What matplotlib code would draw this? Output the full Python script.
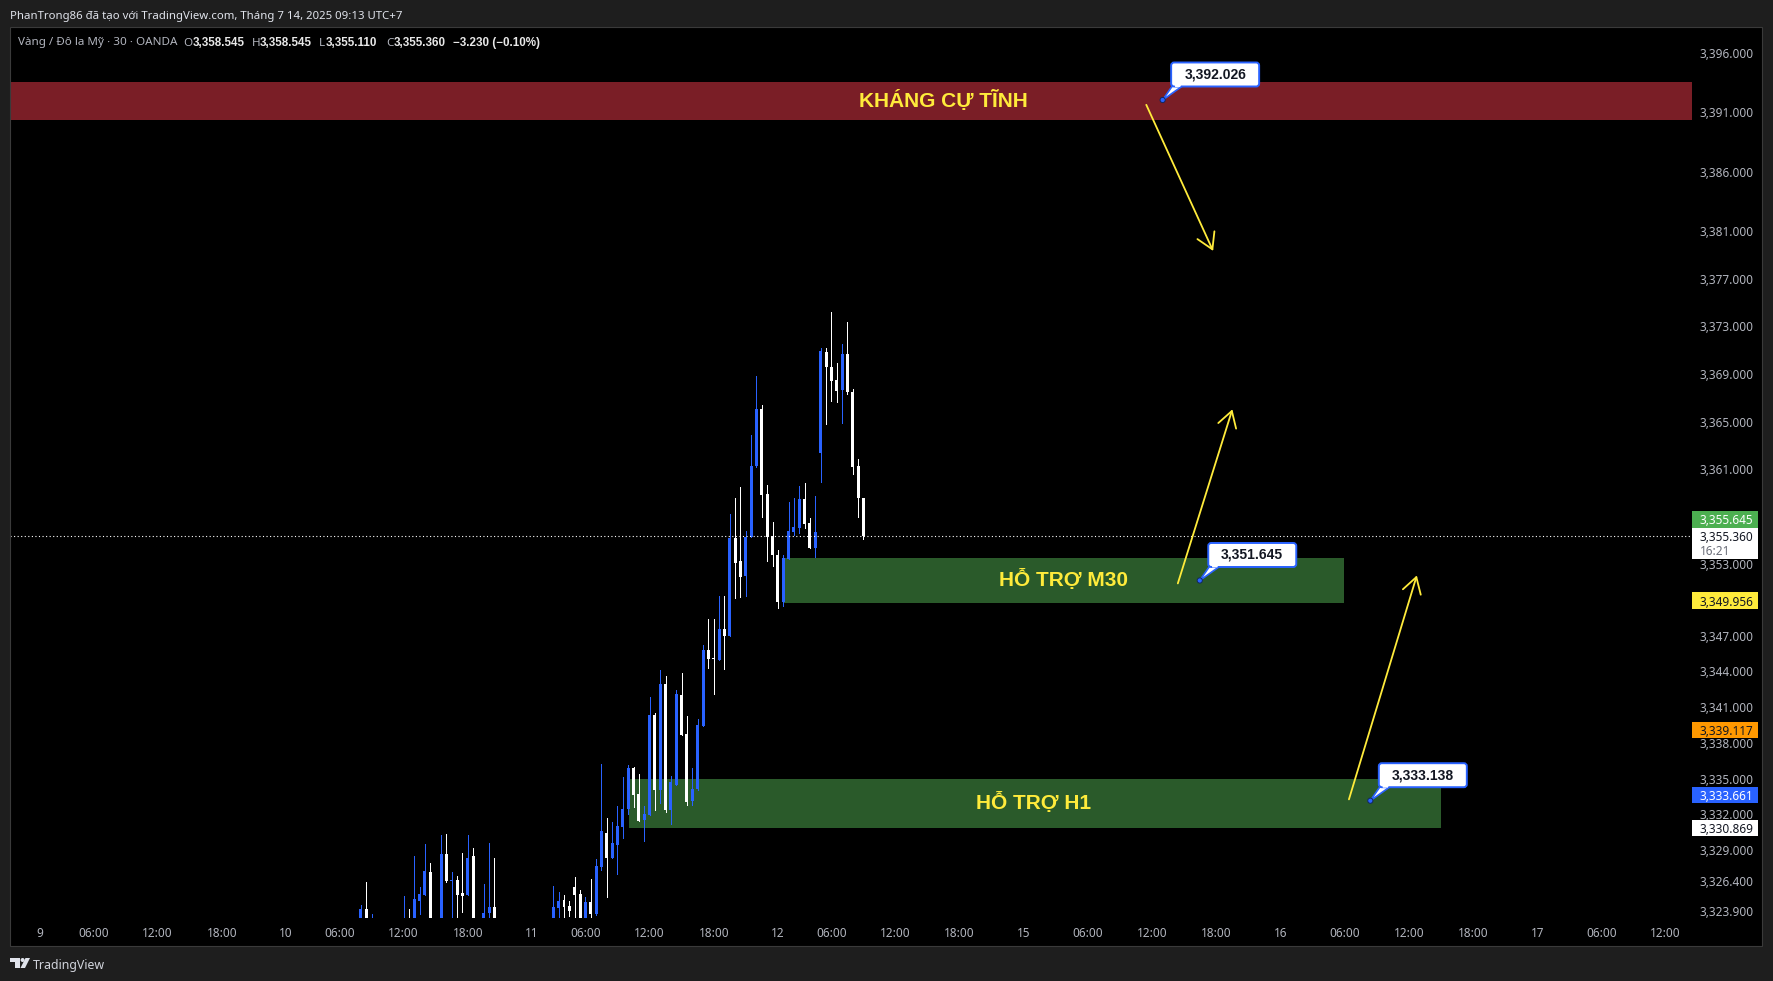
import matplotlib
matplotlib.use("Agg")
import matplotlib.pyplot as plt
from matplotlib.patches import Rectangle, FancyBboxPatch, Polygon, Circle, FancyArrowPatch
from matplotlib.transforms import IdentityTransform

plt.rcParams['font.family'] = ['Noto Sans', 'DejaVu Sans']
BOLD = ['Liberation Sans', 'DejaVu Sans']

bar_index = [60,61,62,68,69,70,71,72,73,75,76,77,78,79,80,81,83,84,85,
             96,97,98,99,100,101,102,103,104,105,106,107,108,109,110,111,112,113,114,115,116,117,118,119,120,
             121,122,123,124,125,126,127,128,129,130,131,132,133,134,135,136,137,138,139,140,141,142,143,144,145,
             146,147,148,149,150,151,152,153,154]
opens = [3322.6,3324.04,3322.5,3322.4,3323.0,3322.6,3324.71,3325.22,3327.15,3322.8,3328.66,3326.39,3326.48,3325.39,3325.22,3328.49,3322.8,3323.70,3324.21,
         3322.7,3324.13,3324.80,3324.29,3325.89,3325.30,3322.9,3324.63,3323.62,3327.57,3330.43,3328.33,3329.42,3330.93,3332.45,3335.89,3333.71,3331.52,3331.94,3340.35,3334.04,3342.95,3332.36,3334.46,3342.03,
         3338.75,3333.12,3334.13,3339.42,3345.81,3345.13,3344.97,3347.57,3346.99,3355.21,3353.28,3352.02,3355.30,3361.26,3366.05,3358.91,3355.38,3353.78,3349.83,3353.45,3355.72,3356.05,3358.49,3356.47,3354.37,
         3362.36,3370.88,3369.58,3368.49,3367.65,3370.69,3367.48,3361.26,3358.545]
highs = [3324.38,3326.31,3323.62,3325.13,3324.04,3328.49,3325.89,3329.50,3327.91,3330.26,3330.34,3327.15,3326.81,3328.75,3330.26,3329.17,3326.14,3329.59,3328.33,
         3325.97,3325.47,3325.22,3324.71,3326.73,3325.64,3325.05,3326.56,3328.24,3336.23,3331.69,3331.36,3332.70,3335.14,3336.15,3335.98,3335.39,3332.70,3341.86,3340.51,3344.13,3343.62,3335.22,3342.45,3343.88,
         3340.26,3335.89,3340.01,3346.23,3348.41,3348.41,3350.34,3350.34,3357.23,3358.57,3359.50,3355.80,3363.87,3368.83,3366.39,3359.67,3356.56,3354.20,3353.78,3358.24,3358.57,3359.58,3359.83,3356.89,3358.74,
         3371.16,3371.20,3374.20,3369.92,3371.50,3373.34,3367.70,3361.85,3358.545]
lows = [3322.2,3322.4,3322.1,3322.0,3322.2,3322.2,3323.62,3325.22,3322.5,3322.4,3326.31,3323.0,3323.0,3323.79,3325.22,3322.6,3322.4,3323.0,3322.6,
        3322.4,3323.0,3323.0,3323.45,3323.0,3322.6,3322.5,3323.2,3323.54,3327.32,3325.05,3328.33,3326.98,3330.01,3332.03,3332.62,3331.44,3329.76,3331.94,3332.36,3332.95,3332.20,3331.19,3334.46,3338.67,
        3332.78,3332.78,3334.04,3339.42,3344.30,3342.11,3344.97,3344.21,3346.99,3350.17,3350.25,3350.34,3355.30,3361.18,3356.98,3353.28,3352.86,3349.33,3349.50,3353.45,3355.46,3355.63,3356.05,3354.37,3353.62,
        3359.92,3364.79,3366.72,3366.64,3364.88,3367.31,3360.59,3356.98,3355.110]
closes = [3324.04,3322.8,3322.9,3322.9,3322.5,3324.88,3325.30,3327.23,3322.9,3328.66,3326.39,3326.48,3325.22,3325.13,3328.33,3323.0,3323.70,3324.21,3323.0,
          3324.21,3324.71,3324.21,3323.87,3325.22,3322.9,3324.63,3323.62,3327.65,3330.60,3328.33,3329.59,3331.02,3332.45,3335.89,3333.62,3331.44,3332.03,3340.35,3334.04,3342.95,3332.36,3334.72,3342.11,3338.67,
          3333.04,3334.13,3339.51,3345.81,3345.05,3345.05,3347.57,3346.99,3355.21,3353.11,3351.93,3355.30,3361.26,3366.05,3358.83,3355.30,3353.78,3349.83,3353.53,3355.80,3356.14,3358.49,3356.39,3354.37,3355.72,
          3370.97,3369.58,3368.41,3367.56,3370.69,3367.48,3361.18,3358.57,3355.360]

tick_pos = [0,10,22,34,46,56,68,80,92,102,114,126,138,148,160,172,184,196,208,220,232,244,256,268,280,292,304]
tick_txt = ['9','06:00','12:00','18:00','10','06:00','12:00','18:00','11','06:00','12:00','18:00','12','06:00','12:00','18:00',
            '15','06:00','12:00','18:00','16','06:00','12:00','18:00','17','06:00','12:00']
price_ticks = [3396,3391,3386,3381,3377,3373,3369,3365,3361,3353,3347,3344,3341,3338,3335,3332,3329,3326.4,3323.9]

last_close = 3355.36
red_zone = (3390.34, 3393.51)
m30_zone = (139.1, 243.8, 3349.78, 3353.53)
h1_zone = (110.15, 262.1, 3330.85, 3334.97)
zone_labels = [('KHÁNG CỰ TĨNH', 168.9, 3392.0), ('HỖ TRỢ M30', 191.5, 3351.75), ('HỖ TRỢ H1', 185.8, 3333.0)]
arrows = [((206.9, 3391.62), (219.4, 3379.34)), ((212.8, 3351.40), (223.0, 3366.03)), ((244.8, 3333.25), (257.5, 3352.07))]
callouts = [(209.96, 3392.026, '3,392.026'), (216.9, 3351.645, '3,351.645'), (248.8, 3333.138, '3,333.138')]
tags = [('3,355.645', 519.3, '#4caf50', '#ffffff'), ('3,349.956', 600.5, '#ffeb3b', '#131722'),
        ('3,339.117', 730, '#ff9800', '#131722'), ('3,333.661', 795, '#2962ff', '#ffffff'),
        ('3,330.869', 828, '#ffffff', '#131722')]

W, H = 1773, 981
BG, BLUE, YEL = '#1e1e1e', '#2962ff', '#ffeb3b'
GREY = '#b2b5be'
fig = plt.figure(figsize=(W/100, H/100), dpi=100, facecolor=BG)

def fx(x): return x / W
def fy(y): return 1 - y / H

fig.add_artist(Rectangle((fx(10), fy(945.5)), (1762-10)/W, (945.5-27)/H, transform=fig.transFigure,
                         fc='black', ec='none', zorder=-1))
ax = fig.add_axes([fx(10), fy(918), (1692-10)/W, (918-27)/H], facecolor='black')
ax.set_xlim(-5.61, 308.96)
ax.set_ylim(3323.28, 3398.16)
for s in ax.spines.values():
    s.set_visible(False)

ax.axhspan(red_zone[0], red_zone[1], color='#7a1e26', lw=0, zorder=1)
for z in (m30_zone, h1_zone):
    ax.add_patch(Rectangle((z[0], z[2]), z[1]-z[0], z[3]-z[2], fc='#2a5a2a', ec='none', zorder=1))

for i, o, h, l, c in zip(bar_index, opens, highs, lows, closes):
    col = BLUE if c > o else '#ffffff'
    ax.vlines(i, l, h, color=col, lw=0.72, antialiased=False, zorder=3)
    ax.bar(i, abs(c-o), bottom=min(o, c), width=0.56, color=col, lw=0, antialiased=False, zorder=3)

ax.axhline(last_close, color='white', lw=0.8, ls=(0, (1, 2.2)), zorder=4)

for t, x, y in zone_labels:
    ax.text(x, y, t, color=YEL, fontsize=15, fontweight='bold', family=BOLD, ha='center', va='center', zorder=5)

for a, b in arrows:
    ax.add_patch(FancyArrowPatch(a, b, arrowstyle='->,head_length=0.7,head_width=0.42', mutation_scale=16,
                                 color=YEL, lw=1.3, shrinkA=0, shrinkB=0, zorder=5))

ax.set_xticks(tick_pos, tick_txt, fontsize=8.5, color=GREY)
ax.tick_params(axis='x', length=0, pad=6.5)
ax.yaxis.tick_right()
ax.set_yticks(price_ticks, [f'{p:,.3f}' for p in price_ticks], fontsize=8.5, color=GREY)
ax.tick_params(axis='y', length=0, pad=5.5)
for lbl in ax.get_yticklabels():
    lbl.set_va('center_baseline')

for x, p, t in callouts:
    dx, dy = ax.transData.transform((x, p))
    bx, by = dx + 8.5, dy + 13.5
    tail = [(dx, dy), (bx + 1.5, by + 1), (bx + 12, by + 1)]
    ax.add_patch(Polygon(tail, closed=True, transform=IdentityTransform(), fc='white', ec=BLUE, lw=1.2, zorder=6, clip_on=False))
    ax.add_patch(FancyBboxPatch((bx + 2, by + 2), 84, 20, boxstyle='round,pad=2,rounding_size=3', transform=IdentityTransform(),
                                fc='white', ec=BLUE, lw=1.4, zorder=7, clip_on=False))
    ax.add_patch(Polygon([(bx + 3, by + 4), (bx + 11, by + 4), (bx + 9, by - 0.5), (bx + 4, by - 0.5)], closed=True,
                         transform=IdentityTransform(), fc='white', ec='none', zorder=8, clip_on=False))
    ax.add_patch(Circle((dx, dy), 2.6, transform=IdentityTransform(), fc=BLUE, ec='#12265e', lw=0.7, zorder=9, clip_on=False))
    ax.text(bx + 44, by + 12, t, transform=IdentityTransform(), color='#131722', fontsize=10, fontweight='bold', family=BOLD,
            ha='center', va='center', zorder=10, clip_on=False)

def tag_box(y0, y1, color):
    fig.add_artist(Rectangle((fx(1692), fy(y1)), (1757.7-1692)/W, (y1-y0)/H, transform=fig.transFigure, fc=color, ec='none', zorder=3))

for t, yc, col, tc in tags:
    tag_box(yc-8.4, yc+8.4, col)
    fig.text(fx(1700), fy(yc), t, color=tc, fontsize=8.5, ha='left', va='center_baseline', zorder=4)
tag_box(527.7, 558.7, '#ffffff')
fig.text(fx(1700), fy(536), '3,355.360', color='#131722', fontsize=8.5, ha='left', va='center_baseline', zorder=4)
fig.text(fx(1700), fy(550), '16:21', color='#6a6d78', fontsize=8.5, ha='left', va='center_baseline', zorder=4)

fig.text(fx(10), fy(14.5), 'PhanTrong86 đã tạo với TradingView.com, Tháng 7 14, 2025 09:13 UTC+7',
         color='#e0e3eb', fontsize=8.2, ha='left', va='center_baseline')
legend_parts = [(18, 'Vàng / Đô la Mỹ · 30 · OANDA', GREY, 'normal'),
                (183, 'O', GREY, 'normal'), (192.7, '3,358.545', '#e8e8e8', 'bold'),
                (251.7, 'H', GREY, 'normal'), (259.3, '3,358.545', '#e8e8e8', 'bold'),
                (319.3, 'L', GREY, 'normal'), (326, '3,355.110', '#e8e8e8', 'bold'),
                (386, 'C', GREY, 'normal'), (393.3, '3,355.360', '#e8e8e8', 'bold'),
                (452.7, '−3.230 (−0.10%)', '#e8e8e8', 'bold')]
for x, t, c, w in legend_parts:
    fam = BOLD if w == 'bold' else plt.rcParams['font.family']
    fig.text(fx(x), fy(41.5), t, color=c, fontsize=8.4, fontweight=w, family=fam, ha='left', va='center_baseline', zorder=4)

fig.add_artist(Rectangle((fx(10), fy(945.5)), (1762-10)/W, (945.5-27)/H, transform=fig.transFigure,
                         fc='none', ec='#3a3a3a', lw=0.8, zorder=2))

logo = '#e0e3eb'
for pts in ([(10, 958), (19.5, 958), (19.5, 968), (15, 968), (15, 962), (10, 962)],
            [(25.5, 958), (30, 958), (25, 968), (20.5, 968)]):
    fig.add_artist(Polygon([(fx(a), fy(b)) for a, b in pts], closed=True, transform=fig.transFigure, fc=logo, ec='none'))
fig.add_artist(Circle((22.6, H - 960), 2, transform=IdentityTransform(), fc=logo, ec='none'))
fig.text(fx(33), fy(964), 'TradingView', color='#d1d4dc', fontsize=8.9, ha='left', va='center_baseline')

fig.savefig('out.png', dpi=100, facecolor=BG)
